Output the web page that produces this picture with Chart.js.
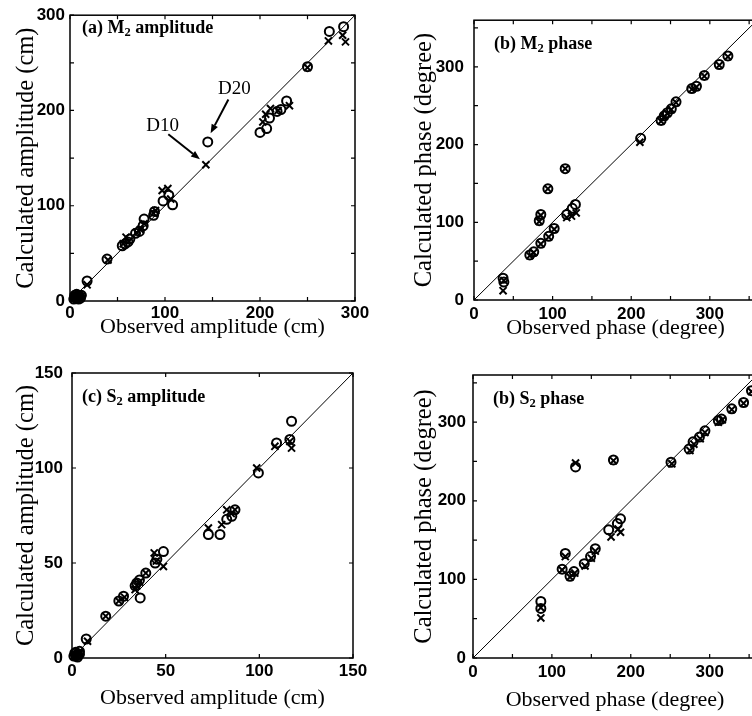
<!DOCTYPE html>
<html>
<head>
<meta charset="utf-8">
<script src="https://cdn.jsdelivr.net/npm/chart.js@4.4.0/dist/chart.umd.min.js"></script>
<style>
  html, body { margin: 0; padding: 0; background: #fff; overflow: hidden; }
  #page { position: relative; width: 752px; height: 716px; overflow: hidden; }
  canvas { position: absolute; }
</style>
</head>
<body>
<div id="page">
  <canvas id="pa" width="376" height="345" style="left:0;top:0"></canvas>
  <canvas id="pb" width="390" height="345" style="left:376px;top:0"></canvas>
  <canvas id="pc" width="376" height="371" style="left:0;top:345px"></canvas>
  <canvas id="pd" width="390" height="371" style="left:376px;top:345px"></canvas>
</div>
<script>
// [observed, calculated] pairs
// D20 = circles, D10 = crosses

// (a) M2 amplitude (cm)
const m2AmpD20 = [[4,2],[5,4],[6,3],[7,5],[8,4],[9,6],[10,5],[11,3],[12,6],[7,7],[5,6],[9,2],
  [18,21],[39,44],[55,58],[58,60],[61,62],[63,65],
  [69,71],[73,73],[77,79],[78,86],[88,90],[89,94],[98,105],[104,111],[108,101],[145,167],
  [200,177],[207,181],[210,192],[218,199],[222,201],[228,210],[250,246],[273,283],[288,288]];
const m2AmpD10 = [[4,3],[6,4],[8,5],[10,6],[12,5],[7,3],[18,17],[40,43],[56,60],[59,67],[62,63],[70,72],
  [74,75],[78,81],[88,92],[90,95],[97,116],[103,118],[106,107],[143,143],[203,188],[206,196],
  [211,202],[219,200],[231,205],[250,245],[272,273],[287,279],[290,272]];

// (b) M2 phase (degree)
const m2PhaD20 = [[37,28],[38,23],[71,58],[76,62],[85,73],[95,82],[102,92],[83,102],[85,110],[94,143],
  [116,169],[118,110],[125,118],[129,123],[212,208],[238,231],[242,237],[246,241],[251,246],
  [257,255],[277,272],[283,275],[293,289],[312,303],[323,314]];
const m2PhaD10 = [[37,12],[38,25],[71,57],[76,61],[85,72],[95,81],[102,91],[83,101],[85,109],[94,143],
  [116,169],[118,106],[124,108],[130,112],[211,203],[238,230],[242,236],[246,240],[251,245],
  [257,254],[277,271],[283,274],[293,288],[312,302],[323,313]];

// (c) S2 amplitude (cm)
const s2AmpD20 = [[1,1],[2,1],[3,2],[4,2],[2,3],[1.5,2.5],[3,0.5],[4,3.5],[2.5,1.5],
  [7.6,10],[18,22],[25,30],[27.5,32.5],[33.7,38],[34.6,39.5],
  [36,41],[36.4,31.6],[39.4,44.7],[44.4,50],[45.3,52],[48.8,56],[72.8,65],[79,65],[82.6,73],
  [85.3,74.6],[87,78],[99.5,97.4],[109.2,113.2],[117.2,124.6],[116.3,115]];
const s2AmpD10 = [[1,1],[2,2],[3,1],[4,3],[8.3,8.8],[18,22],[25,30],[28,32],[33.7,36],[34.6,38],[36,40],
  [39.4,44.7],[43.9,55.3],[45,51],[48.8,48.2],[72.8,68.4],[79.9,70.2],[82.6,78],[85,76],[87,78],
  [98.6,100],[108.3,111.4],[116.3,114],[117.2,110.5]];

// (d) S2 phase (degree)
const s2PhaD20 = [[86,72],[86,63],[113,113],[117,133],[123,104],[128,110],[130,243],[141,120],[149,129],
  [155,139],[172,163],[178,252],[183,171],[187,177],[251,249],[274,266],[279,275],[287,281],
  [294,289],[311,302],[315,304],[328,317],[343,325],[353,340]];
const s2PhaD10 = [[86,51],[86,64],[113,112],[117,129],[123,103],[129,108],[130,248],[142,117],[150,127],
  [155,136],[175,154],[178,251],[184,164],[187,160],[252,247],[275,264],[280,272],[288,279],
  [294,287],[311,300],[316,303],[328,316],[343,324],[353,339]];

// 1:1 lines
const ampM2Line = [0, 300];
const phaLine = [0, 360];
const ampS2Line = [0, 150];

const SERIF = '"Liberation Serif", "Times New Roman", serif';
const SANS = '"Liberation Sans", Arial, sans-serif';

const xy = pairs => pairs.map(p => ({ x: p[0], y: p[1] }));

function makePanel(id, c) {
  const frame = {
    id: 'frame',
    afterDatasetsDraw(chart) {
      const { ctx, chartArea: a, scales: { x, y } } = chart;
      const tl = 4;
      ctx.save();
      ctx.strokeStyle = '#000';
      ctx.lineWidth = 1.5;
      ctx.strokeRect(a.left, a.top, a.right - a.left, a.bottom - a.top);
      ctx.lineWidth = 1.2;
      ctx.beginPath();
      x.ticks.forEach(t => {
        const p = x.getPixelForValue(t.value);
        ctx.moveTo(p, a.bottom); ctx.lineTo(p, a.bottom - tl);
        ctx.moveTo(p, a.top); ctx.lineTo(p, a.top + tl);
      });
      y.ticks.forEach(t => {
        const p = y.getPixelForValue(t.value);
        ctx.moveTo(a.left, p); ctx.lineTo(a.left + tl, p);
        ctx.moveTo(a.right, p); ctx.lineTo(a.right - tl, p);
      });
      ctx.stroke();

      // panel label with subscript
      let px = a.left + c.label.dx;
      const py = a.top + c.label.dy;
      ctx.fillStyle = '#000';
      ctx.textBaseline = 'middle';
      c.label.parts.forEach(([s, sub]) => {
        ctx.font = sub ? 'bold 12.5px ' + SERIF : 'bold 18px ' + SERIF;
        ctx.fillText(s, px, sub ? py + 5 : py);
        px += ctx.measureText(s).width;
      });

      // arrows (data coordinates)
      (c.notes || []).forEach(n => {
        ctx.font = '19px ' + SERIF;
        ctx.textAlign = 'center';
        ctx.fillText(n.text, x.getPixelForValue(n.at[0]), y.getPixelForValue(n.at[1]));
        const x0 = x.getPixelForValue(n.from[0]), y0 = y.getPixelForValue(n.from[1]);
        const x1 = x.getPixelForValue(n.to[0]), y1 = y.getPixelForValue(n.to[1]);
        const ang = Math.atan2(y1 - y0, x1 - x0);
        const hl = 9, hw = 3.5;
        const bx = x1 - hl * Math.cos(ang), by = y1 - hl * Math.sin(ang);
        ctx.lineWidth = 2;
        ctx.beginPath(); ctx.moveTo(x0, y0); ctx.lineTo(bx, by); ctx.stroke();
        ctx.beginPath();
        ctx.moveTo(x1, y1);
        ctx.lineTo(bx + hw * Math.sin(ang), by - hw * Math.cos(ang));
        ctx.lineTo(bx - hw * Math.sin(ang), by + hw * Math.cos(ang));
        ctx.closePath(); ctx.fill();
      });
      ctx.restore();
    }
  };

  const tickCb = v => (v % c.labelStep === 0 ? String(v) : '');

  new Chart(document.getElementById(id), {
    type: 'scatter',
    data: {
      datasets: [
        { data: xy(c.line.map(v => [v, v])), showLine: true, borderColor: '#000', borderWidth: 1,
          pointRadius: 0, clip: false },
        { label: 'D20', data: xy(c.d20), pointStyle: 'circle', pointRadius: 4.5, borderWidth: 2,
          borderColor: '#000', backgroundColor: 'rgba(0,0,0,0)', clip: false },
        { label: 'D10', data: xy(c.d10), pointStyle: 'crossRot', pointRadius: 5, borderWidth: 2,
          borderColor: '#000', clip: false }
      ]
    },
    options: {
      responsive: false,
      animation: false,
      devicePixelRatio: 1,
      layout: { padding: { left: 0, top: c.padTop, right: c.padRight, bottom: 0 } },
      plugins: { legend: { display: false }, tooltip: { enabled: false } },
      scales: {
        x: {
          type: 'linear', min: 0, max: c.max,
          grid: { display: false, drawTicks: false }, border: { display: false },
          ticks: { stepSize: 50, includeBounds: false, autoSkip: false, maxRotation: 0,
            padding: c.xTickPad, color: '#000', font: { family: SANS, size: 17, weight: 'bold' },
            callback: tickCb },
          title: { display: true, text: c.xTitle, color: '#000', font: { family: SERIF, size: 22 },
            padding: { top: 0, bottom: c.xTitlePad } },
          afterFit: s => { s.height = c.xH; }
        },
        y: {
          type: 'linear', min: 0, max: c.max,
          grid: { display: false, drawTicks: false }, border: { display: false },
          ticks: { stepSize: 50, includeBounds: false, autoSkip: false,
            padding: c.yTickPad, color: '#000', font: { family: SANS, size: 17, weight: 'bold' },
            callback: tickCb },
          title: { display: true, text: c.yTitle, color: '#000', font: { family: SERIF, size: 24.5 },
            padding: { top: c.yTitlePad, bottom: 0 } },
          afterFit: s => { s.width = c.yW; }
        }
      }
    },
    plugins: [frame]
  });
}

makePanel('pa', {
  d20: m2AmpD20, d10: m2AmpD10, line: ampM2Line, max: 300, labelStep: 100,
  yW: 70, xH: 44, padTop: 15, padRight: 21, yTickPad: 5, xTickPad: 2, xTitlePad: 4.8, yTitlePad: 11.6,
  xTitle: 'Observed amplitude (cm)', yTitle: 'Calculated amplitude (cm)',
  label: { parts: [['(a) M', 0], ['2', 1], [' amplitude', 0]], dx: 12, dy: 13 },
  notes: [
    { text: 'D20', at: [173, 222], from: [166.7, 211.6], to: [148, 176] },
    { text: 'D10', at: [97.4, 184], from: [103.5, 175], to: [136.8, 148.7] }
  ]
});
makePanel('pb', {
  d20: m2PhaD20, d10: m2PhaD10, line: phaLine, max: 360, labelStep: 100,
  yW: 98, xH: 45, padTop: 16, padRight: 9, yTickPad: 10, xTickPad: 4, xTitlePad: 3.8, yTitlePad: 33.6,
  xTitle: 'Observed phase (degree)', yTitle: 'Calculated phase (degree)',
  label: { parts: [['(b) M', 0], ['2', 1], [' phase', 0]], dx: 20, dy: 24 }
});
makePanel('pc', {
  d20: s2AmpD20, d10: s2AmpD10, line: ampS2Line, max: 150, labelStep: 50,
  yW: 72, xH: 58, padTop: 28, padRight: 23, yTickPad: 9, xTickPad: 3.5, xTitlePad: 4.8, yTitlePad: 11.6,
  xTitle: 'Observed amplitude (cm)', yTitle: 'Calculated amplitude (cm)',
  label: { parts: [['(c) S', 0], ['2', 1], [' amplitude', 0]], dx: 10, dy: 24 }
});
makePanel('pd', {
  d20: s2PhaD20, d10: s2PhaD10, line: phaLine, max: 360, labelStep: 100,
  yW: 97, xH: 58, padTop: 30, padRight: 9, yTickPad: 7, xTickPad: 4, xTitlePad: 2.8, yTitlePad: 33.6,
  xTitle: 'Observed phase (degree)', yTitle: 'Calculated phase (degree)',
  label: { parts: [['(b) S', 0], ['2', 1], [' phase', 0]], dx: 20, dy: 24 }
});
</script>
</body>
</html>
